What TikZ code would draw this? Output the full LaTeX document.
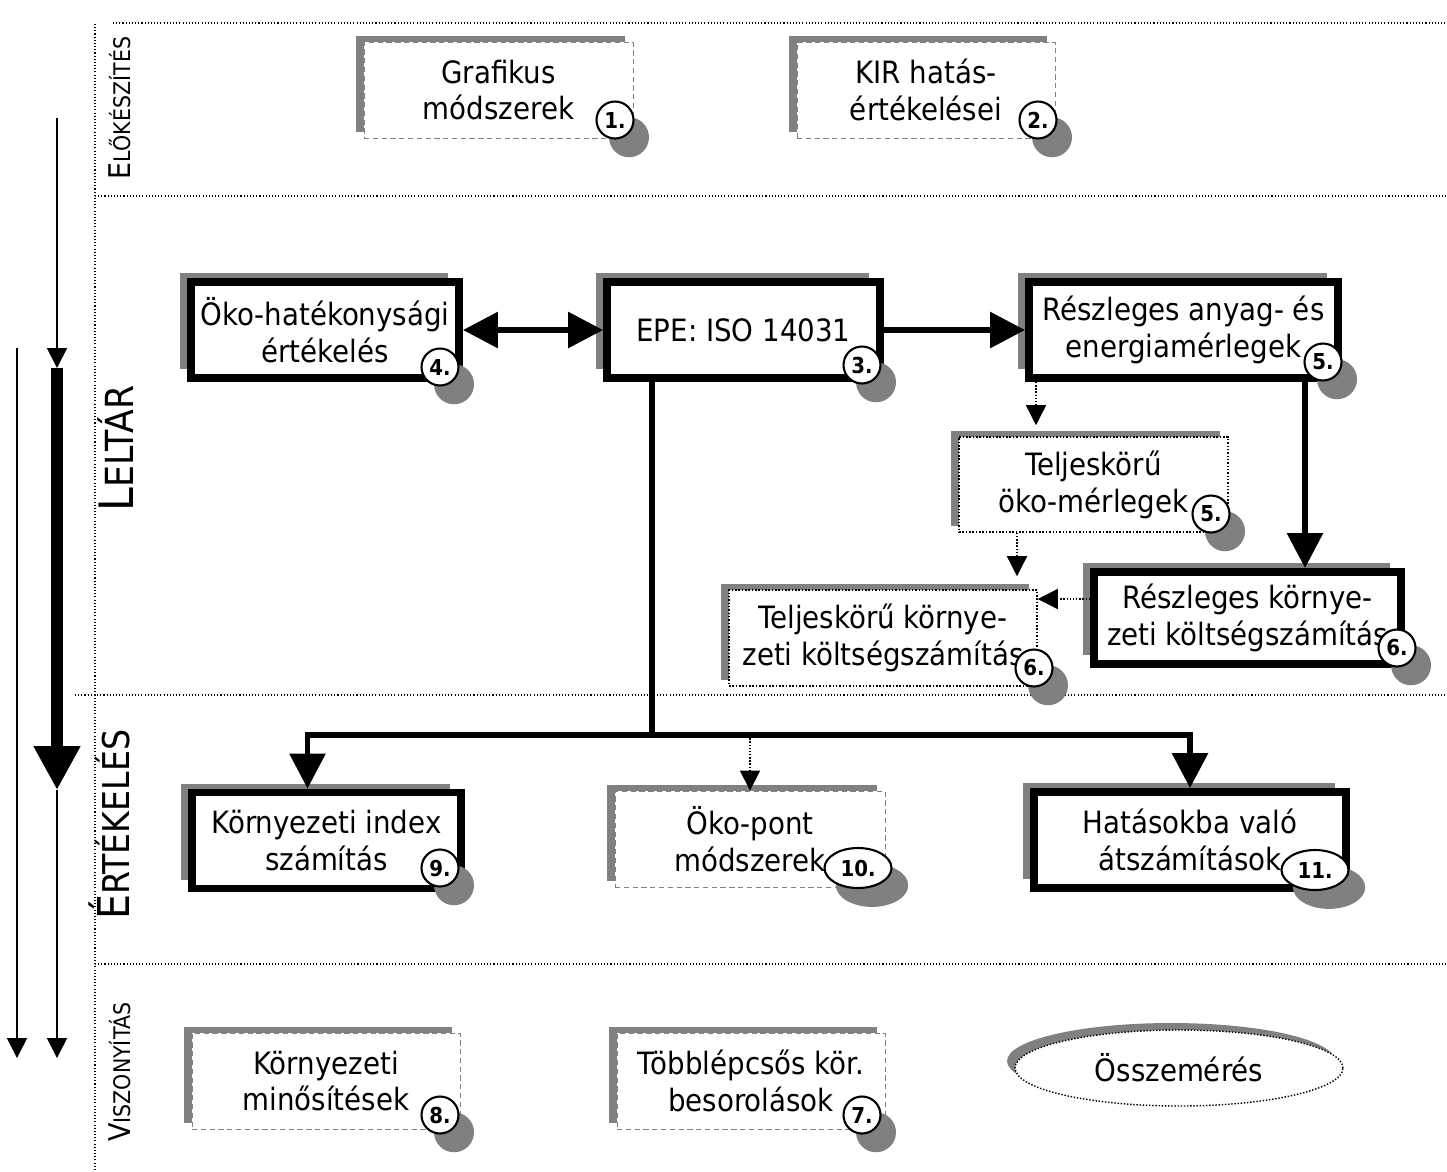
\documentclass[tikz,border=0pt]{standalone}
\usepackage{fontspec}
\setmainfont{DejaVu Sans Condensed}
\usetikzlibrary{arrows.meta,shapes.geometric,shadows}

\definecolor{shadowgray}{gray}{0.5}
\newcommand\boxfont{\fontsize{17.5}{21}\selectfont}
\newcommand\badgefont{\fontsize{12.5}{14}\selectfont\bfseries}
\newcommand\capA[1]{{\fontsize{17}{17}\selectfont #1}}
\newcommand\capB[1]{{\fontsize{13}{13}\selectfont #1}}

\tikzset{
  sectionline/.style={line width=0.6pt, dash pattern=on 0.6pt off 1.2pt},
  boxbase/.style={rectangle, fill=white, align=center, inner sep=0pt, font=\boxfont,
    minimum width=5.38cm, minimum height=1.92cm},
  lightbox/.style={boxbase, draw=gray, line width=0.5pt, densely dashed,
    general shadow={fill=shadowgray, shadow xshift=-0.16cm, shadow yshift=0.12cm}},
  dotbox/.style={boxbase, draw, line width=0.9pt, dash pattern=on 0.9pt off 1pt,
    general shadow={fill=shadowgray, shadow xshift=-0.16cm, shadow yshift=0.12cm}},
  heavybox/.style={boxbase, draw, line width=4.5pt,
    general shadow={fill=shadowgray, shadow xshift=-0.22cm, shadow yshift=0.18cm}},
  badge/.style={circle, draw, line width=1.2pt, fill=white, inner sep=0pt,
    minimum size=0.74cm, font=\badgefont,
    general shadow={fill=shadowgray, shadow xshift=0.26cm, shadow yshift=-0.32cm, shadow scale=1.08}},
  widebadge/.style={badge, ellipse, minimum width=1.34cm, minimum height=0.8cm},
  thinarrow/.style={line width=1pt, -{Triangle[length=0.4cm,width=0.4cm]}},
  heavyline/.style={line width=3.4pt},
  heavyarrow/.style={heavyline, -{Triangle[length=0.7cm,width=0.7cm]}},
  dotarrow/.style={line width=0.8pt, dash pattern=on 0.8pt off 1pt,
    -{Triangle[length=0.4cm,width=0.4cm]}},
}

\begin{document}
\begin{tikzpicture}[x=0.02cm, y=-0.02cm]
\useasboundingbox (0,0) rectangle (1447,1171);

% sections
\draw[sectionline] (95,24) -- (95,1171);
\draw[sectionline] (113,23) -- (1447,23);
\draw[sectionline] (95,196) -- (1447,196);
\draw[sectionline] (75,695) -- (1447,695);
\draw[sectionline] (95,964) -- (1447,964);

\node[rotate=90, anchor=base west, inner sep=0pt] (prep) at (130,180)
  {\capA{E}\capB{LŐKÉSZÍTÉS}};
\node[rotate=90, anchor=base west, inner sep=0pt] (inv) at (133,512)
  {{\fontsize{27}{27}\selectfont L}{\fontsize{22}{22}\selectfont ELTÁR}};
\node[rotate=90, anchor=base west, inner sep=0pt] (eval) at (129,920)
  {{\fontsize{25}{25}\selectfont É}{\fontsize{21}{21}\selectfont RTÉKELÉS}};
\node[rotate=90, anchor=base west, inner sep=0pt] (comp) at (130,1142)
  {\capA{V}\capB{ISZONYÍTÁS}};

% time axis
\coordinate (pa) at (57,118);
\coordinate (pb) at (57,368);
\coordinate (pc) at (57,790);
\coordinate (pd) at (57,1058);
\coordinate (qa) at (17,348);
\coordinate (qd) at (17,1058);
\draw[thinarrow] (pa) -- (pb);
\draw[line width=0.24cm, -{Triangle[length=0.88cm,width=0.88cm]}] (pb) -- (pc);
\draw[thinarrow] (pc) -- (pd);
\draw[thinarrow] (qa) -- (qd);

% boxes
\node[lightbox] (graf) at (498.5,90) {Grafikus\\módszerek};
\node[lightbox, minimum width=5.16cm] (kir) at (926,90) {KIR hatás-\\értékelései};

\node[heavybox, minimum width=5.36cm] (okoh) at (325,330) {Öko-hatékonysági\\értékelés};
\node[heavybox, minimum width=5.46cm] (epe) at (743.5,330) {EPE: ISO 14031};
\node[heavybox, minimum width=6.18cm] (reszl) at (1183.5,330) {Részleges anyag- és\\energiamérlegek};
\node[dotbox, minimum height=1.9cm] (telj) at (1093.5,484.5) {Teljeskörű\\öko-mérlegek};
\node[dotbox, minimum width=6.16cm] (teljk) at (883,638) {Teljeskörű környe-\\zeti költségszámítás};
\node[heavybox, minimum width=6.14cm, minimum height=1.84cm] (reszk) at (1247.5,618) {Részleges környe-\\zeti költségszámítás};

\node[heavybox] (kix) at (326.5,840.5) {Környezeti index\\számítás};
\node[lightbox, minimum width=5.4cm] (okop) at (750,839) {Öko-pont\\módszerek};
\node[heavybox, minimum width=6.24cm] (hat) at (1190,840) {Hatásokba való\\átszámítások};

\node[lightbox, minimum width=5.36cm] (minos) at (326,1081) {Környezeti\\minősítések};
\node[lightbox, minimum width=5.36cm] (tobb) at (751,1081) {Többlépcsős kör.\\besorolások};
\node[ellipse, draw, fill=white, line width=0.8pt, dash pattern=on 0.8pt off 1pt,
  minimum width=6.56cm, minimum height=1.52cm, font=\boxfont,
  general shadow={fill=shadowgray, shadow xshift=-0.16cm, shadow yshift=0.14cm}]
  (ossz) at (1179,1068) {Összemérés};

% connectors
\draw[heavyline, {Triangle[length=0.7cm,width=0.7cm]}-{Triangle[length=0.7cm,width=0.7cm]}] (okoh) -- (epe);
\draw[heavyarrow] (epe) -- (reszl);

\coordinate (split) at (652,735);
\draw[heavyline] (epe.south -| split) -- (split);
\draw[heavyarrow] (split) -| ([xshift=-0.38cm]kix.north);
\draw[heavyarrow] (split) -| (hat.north);
\draw[dotarrow] (split -| okop.north) -- (okop.north);

\coordinate (drop) at (1305,0);
\draw[heavyarrow] (reszl.south -| drop) -- (reszk.north -| drop);
\coordinate (dropa) at (1036,0);
\draw[dotarrow, shorten >=0.22cm] (reszl.south -| dropa) -- (telj.north -| dropa);
\coordinate (dropb) at (1017,0);
\draw[dotarrow, shorten >=0.26cm] (telj.south -| dropb) -- (teljk.north -| dropb);
\coordinate (side) at (0,599);
\draw[dotarrow] (reszk.west |- side) -- (teljk.east |- side);

% numbers
\node[badge] (n1) at (615,120) {1.};
\node[badge] (n2) at (1038,120) {2.};
\node[badge] (n4) at (440,367) {4.};
\node[badge] (n3) at (862,365) {3.};
\node[badge] (n5) at (1323,362) {5.};
\node[badge] (n5b) at (1211,514) {5.};
\node[badge] (n6b) at (1034,668) {6.};
\node[badge] (n6) at (1397,648) {6.};
\node[badge] (n9) at (440,868) {9.};
\node[widebadge] (n10) at (858,868) {10.};
\node[widebadge] (n11) at (1315,870) {11.};
\node[badge] (n8) at (440,1115) {8.};
\node[badge] (n7) at (862,1115) {7.};

\end{tikzpicture}
\end{document}
